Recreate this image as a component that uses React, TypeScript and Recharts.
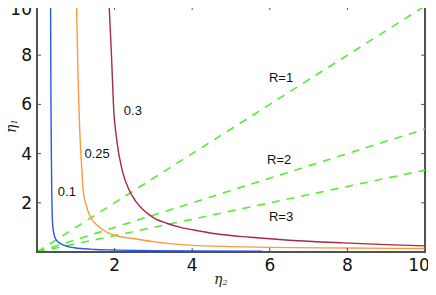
import { LineChart, Line, XAxis, YAxis, ReferenceDot, ReferenceLine, ReferenceArea, Label } from "recharts"

// curves as [η2, η1] pairs
const curve01 = [
  [0.35, 10], [0.36, 6], [0.37, 4], [0.38, 2.5], [0.39, 1.6], [0.41, 1.0],
  [0.45, 0.65], [0.5, 0.48], [0.6, 0.35], [0.8, 0.22], [1.06, 0.15],
  [1.5, 0.1], [2.0, 0.08], [3.0, 0.05], [4.0, 0.04], [5.8, 0.03],
]
const curve025 = [
  [1.02, 10], [1.06, 7], [1.1, 5], [1.15, 3.5], [1.19, 2.5], [1.25, 2.0],
  [1.37, 1.44], [1.62, 1.0], [2.0, 0.68], [2.47, 0.55], [3.0, 0.42],
  [3.5, 0.33], [4.0, 0.27], [5.0, 0.22], [6.0, 0.19], [8.0, 0.16], [10, 0.14],
]
const curve03 = [
  [1.86, 10], [1.92, 8], [1.97, 6], [2.06, 4.5], [2.2, 3.3], [2.38, 2.5],
  [2.55, 2.05], [2.75, 1.7], [3.0, 1.4], [3.34, 1.17], [3.7, 1.0],
  [4.2, 0.85], [4.7, 0.72], [5.5, 0.6], [6.5, 0.48], [7.9, 0.37],
  [9.0, 0.3], [10, 0.25],
]
// R lines: η1 = η2 / R
const lineR1 = [[0, 0], [10, 10]]
const lineR2 = [[0, 0], [10, 5]]
const lineR3 = [[0, 0], [10, 3.33]]

const xTicks = [2, 4, 6, 8, 10]
const yTicks = [2, 4, 6, 8, 10]
const X_MAX = 10
const Y_MAX = 10

const curveLabels = [
  { text: "0.1", x: 0.77, y: 2.45 },
  { text: "0.25", x: 1.55, y: 4.0 },
  { text: "0.3", x: 2.47, y: 5.76 },
  { text: "R=1", x: 6.29, y: 7.1 },
  { text: "R=2", x: 6.24, y: 3.76 },
  { text: "R=3", x: 6.29, y: 1.43 },
]

const toRows = (pts: number[][]) => pts.map(([x, y]) => ({ x, y }))

const AXIS = "#4e5454"
const GREEN = "#55ec32"
const FONT = "DejaVu Sans, sans-serif"

const curves = [
  { key: "c01", pts: curve01, color: "#2b55f0" },
  { key: "c025", pts: curve025, color: "#ff9a3c" },
  { key: "c03", pts: curve03, color: "#a42a48" },
]
const rLines = [
  { key: "r1", pts: lineR1 },
  { key: "r2", pts: lineR2 },
  { key: "r3", pts: lineR3 },
]

// bottom tick label, pulled in so the last one stays inside the figure
const XTick = (props: any) => {
  const { x, y, payload } = props
  const cx = Math.min(x, 419)
  return (
    <text x={cx} y={y} textAnchor="middle" dominantBaseline="hanging" fontSize={17} fill="#111" fontFamily={FONT}>
      {payload.value}
    </text>
  )
}

const YTick = (props: any) => {
  const { x, y, payload } = props
  return (
    <text x={x} y={y} textAnchor="end" dominantBaseline="central" fontSize={17} fill="#111" fontFamily={FONT}>
      {payload.value}
    </text>
  )
}

// inward tick length on the top / right frame, in axis units (about 4px)
const TICK_X = 0.1
const TICK_Y = 0.16

export default function App() {
  return (
    <div style={{ width: 436, height: 295, margin: -8 }}>
      <LineChart width={436} height={295} margin={{ top: 6, right: 11, left: 8, bottom: 0 }}>
        <XAxis
          dataKey="x"
          type="number"
          domain={[0, X_MAX]}
          ticks={xTicks}
          allowDataOverflow
          height={43}
          axisLine={{ stroke: AXIS, strokeWidth: 2 }}
          tickLine={{ stroke: AXIS }}
          tickSize={-4}
          tickMargin={10}
          tick={<XTick />}
        >
          <Label
            content={() => (
              <text x={214} y={284} fontFamily="DejaVu Serif, serif" fontStyle="italic" fontSize={14} fill="#222">
                η<tspan fontSize={8} dy={1}>2</tspan>
              </text>
            )}
          />
        </XAxis>
        <YAxis
          type="number"
          domain={[0, Y_MAX]}
          ticks={yTicks}
          allowDataOverflow
          width={29}
          axisLine={{ stroke: AXIS, strokeWidth: 2 }}
          tickLine={{ stroke: AXIS }}
          tickSize={-4}
          tickMargin={9}
          tick={<YTick />}
        >
          <Label
            content={() => (
              <text
                x={0}
                y={0}
                transform="translate(16 133) rotate(-90)"
                fontFamily="DejaVu Serif, serif"
                fontStyle="italic"
                fontSize={14}
                fill="#222"
              >
                η<tspan fontSize={8} dy={1}>1</tspan>
              </text>
            )}
          />
        </YAxis>
        {/* box frame with inward ticks on top and right */}
        <ReferenceArea x1={0} x2={X_MAX} y1={0} y2={Y_MAX} fill="#ffffff" fillOpacity={0} stroke={AXIS} strokeWidth={2} />
        <ReferenceLine y={Y_MAX} stroke={AXIS} strokeWidth={2} />
        <ReferenceLine x={X_MAX} stroke={AXIS} strokeWidth={2} />
        {xTicks.map((t) => (
          <ReferenceLine
            key={`tt${t}`}
            segment={[{ x: t, y: Y_MAX }, { x: t, y: Y_MAX - TICK_Y }]}
            stroke={AXIS}
            strokeWidth={1}
          />
        ))}
        {yTicks.map((t) => (
          <ReferenceLine
            key={`rt${t}`}
            segment={[{ x: X_MAX, y: t }, { x: X_MAX - TICK_X, y: t }]}
            stroke={AXIS}
            strokeWidth={1}
          />
        ))}
        {rLines.map((l) => (
          <Line
            key={l.key}
            data={toRows(l.pts)}
            dataKey="y"
            type="linear"
            stroke={GREEN}
            strokeWidth={1.6}
            strokeDasharray="8 7"
            dot={false}
            isAnimationActive={false}
          />
        ))}
        {curves.map((c) => (
          <Line
            key={c.key}
            data={toRows(c.pts)}
            dataKey="y"
            type="monotone"
            stroke={c.color}
            strokeWidth={1.4}
            dot={false}
            isAnimationActive={false}
          />
        ))}
        {curveLabels.map((l) => (
          <ReferenceDot
            key={l.text}
            x={l.x}
            y={l.y}
            r={0}
            stroke="none"
            fill="none"
            label={{
              value: l.text,
              position: "center",
              fontSize: 13,
              fill: "#111",
              fontFamily: "Liberation Sans, Arial, sans-serif",
            }}
          />
        ))}
      </LineChart>
    </div>
  )
}
